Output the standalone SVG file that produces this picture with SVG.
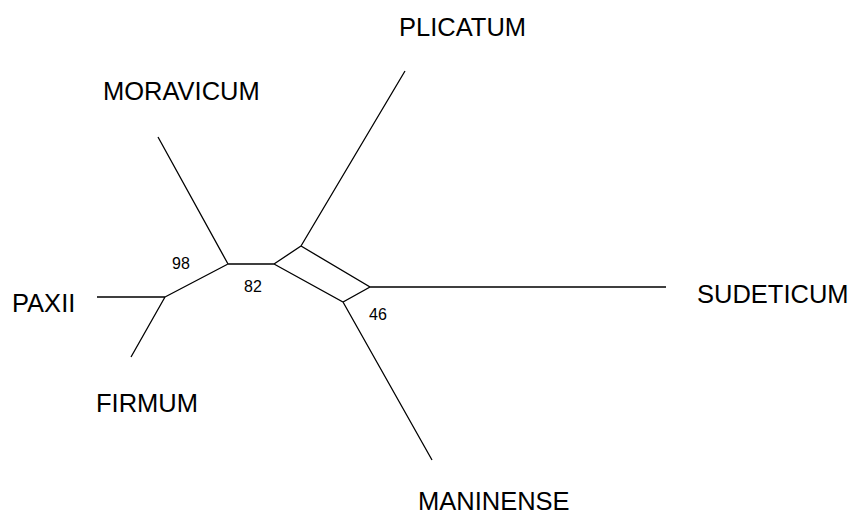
<svg xmlns="http://www.w3.org/2000/svg" width="864" height="529" viewBox="0 0 864 529">
<style>
.e{stroke:#000;stroke-width:1.3;fill:none}
.t{font-family:"Liberation Sans",Arial,sans-serif;font-size:25.5px;fill:#000}
.s{font-family:"Liberation Sans",Arial,sans-serif;font-size:16px;fill:#000;text-anchor:middle}
</style>
<rect width="864" height="529" fill="#fff"/>
<g id="connectors">
<path class="e" d="M97,297H165M165,297L131,357M165,297L228,264M158,137L228,264M228,264H274M274,264L301,246L370,287L343,302L274,264M405,71L301,246M370,287H666M343,302L432,460"/>
</g>
<g id="support">
<text class="s" x="181" y="269">98</text>
<text class="s" x="253" y="292">82</text>
<text class="s" x="378" y="320">46</text>
</g>
<g id="PLICATUM"><text class="t" x="399" y="36">PLICATUM</text></g>
<g id="MORAVICUM"><text class="t" x="103" y="100">MORAVICUM</text></g>
<g id="PAXII"><text class="t" x="12" y="312">PAXII</text></g>
<g id="FIRMUM"><text class="t" x="96" y="412">FIRMUM</text></g>
<g id="SUDETICUM"><text class="t" x="697" y="303">SUDETICUM</text></g>
<g id="MANINENSE"><text class="t" x="418" y="510">MANINENSE</text></g>
</svg>
